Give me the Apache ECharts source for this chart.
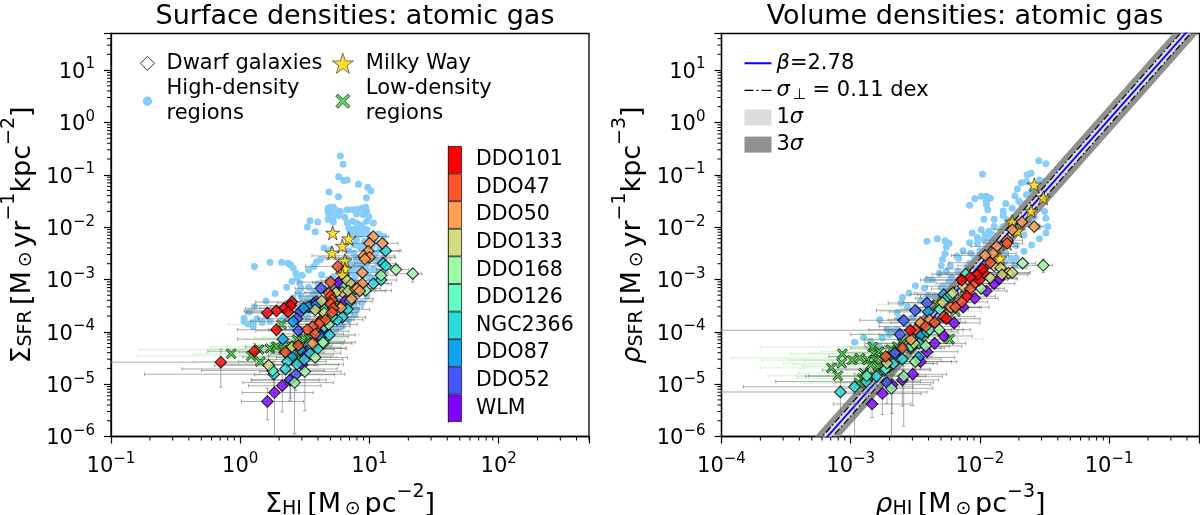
<!DOCTYPE html>
<html><head><meta charset="utf-8">
<style>html,body{margin:0;padding:0;background:#fff}#c{width:1200px;height:515px}</style>
<script src="https://cdn.jsdelivr.net/npm/echarts@6/dist/echarts.min.js"></script>
</head><body><div id="c"></div>
<script>
// All measurements in dex (log10). Point rows: [x, y, xErrLow, xErrHigh, yErrLow, yErrHigh]
const galaxies = ['WLM','DDO52','DDO87','NGC2366','DDO126','DDO168','DDO133','DDO50','DDO47','DDO101'];
const galaxyColors = ['#8000ff','#4756fb','#0fa2f0','#2adcdc','#62fbc4','#9cfba4','#d4dc7f','#ff9f50','#ff5329','#ff0000'];

const surfHigh = [[.775,-.64],[.796,-.8],[.762,-1.04],[.8,-1.11],[.827,-1.1],[.915,-1.18],[.987,-1.24],[1.01,-1.31],[.687,-1.33],[.76,-1.42],[.977,-1.44],[.68,-1.64],[.7,-1.62],[.72,-1.62],[.68,-1.7],[.7,-1.73],[.74,-1.68],[.775,-1.7],[.827,-1.67],[.866,-1.67],[.904,-1.66],[.943,-1.64],[.97,-1.62],[.98,-1.7],[.687,-1.76],[.72,-1.81],[.76,-1.78],[.81,-1.81],[.9,-1.75],[.95,-1.76],[.995,-1.8],[.98,-1.89],[1.03,-1.92],[.54,-1.88],[.6,-1.9],[.52,-2],[.58,-2.09],[.83,-1.92],[.87,-1.89],[.9,-1.92],[.94,-1.96],[.84,-2.02],[.88,-2.04],[.92,-2.02],[.96,-2.04],[.98,-2.05],[.85,-2.11],[.9,-2.13],[.94,-2.13],[.995,-2.15],[1.07,-2.13],[1.11,-2.18],[.9,-2.24],[.96,-2.27],[.88,-2.34],[.92,-2.37],[.96,-2.4],[1.11,-2.31],[.65,-2.4],[.7,-2.43],[.62,-2.62],[.59,-2.66],[.57,-2.75],[.53,-2.82],[.63,-2.91],[.88,-2.5],[.9,-2.59],[.85,-2.69],[.93,-2.69],[.88,-2.78],[.98,-2.69],[1.06,-2.66],[1.11,-2.59],[.11,-2.75],[.23,-2.67],[.32,-2.67],[.37,-2.69],[.39,-2.72],[.41,-2.78],[.48,-2.92],[.43,-2.88],[.44,-2.97],[.46,-3.07],[.4,-3.04],[.36,-3.15],[.47,-3.17],[.27,-3.27],[.53,-3.15],[.57,-3.23],[.2,-3.41],[.11,-3.52],[.07,-3.62],[.03,-3.74],[.03,-3.8],[.1,-3.82],[.06,-3.85],[.1,-3.9],[.17,-3.82],[.23,-3.8],[.47,-3.32],[.52,-3.36],[.59,-3.26],[.65,-3.2],[.7,-3.13],[.775,-3],[.84,-2.88],[.89,-2.94],[.92,-3.07],[.96,-3.13],[.98,-3.32],[.94,-3.45],[.9,-3.58],[.88,-3.68],[.84,-3.77],[.79,-3.9],[.74,-3.96],[.7,-4.06],[.41,-3.45],[.36,-3.71],[.4,-3.9],[.47,-3.96],[.52,-3.71],[.57,-3.45],
[1,-2.25],[1.05,-2.3],[1.08,-2.4],[1.02,-2.38],[.98,-2.5],[1.05,-2.5],[1.1,-2.45],[1,-2.6],[1.04,-2.62],[1.08,-2.7],[.95,-2.6],[.9,-2.68],[.93,-2.78],[.98,-2.82],[1.03,-2.8],[1.07,-2.85],[.85,-2.85],[.9,-2.88],[.95,-2.92],[1,-2.95],[1.04,-2.98],[.8,-2.98],[.86,-3.02],[.92,-3.15],[.88,-3.2],[.82,-3.15],[.78,-3.25],[.84,-3.32],[.9,-3.3],[.94,-3.25],[.76,-3.4],[.82,-3.48],[.88,-3.5],[.72,-3.55],[.78,-3.6],[.84,-3.6],[.68,-3.7],[.74,-3.75],[.8,-3.75],[.65,-3.85],[.7,-3.88],[.6,-3.95],[.66,-4],[.55,-3.6],[.48,-3.6],[.44,-3.7],[.5,-3.5],[.62,-3.4],[.68,-3.35],[.74,-3.1],[.68,-3],[.6,-3.08],[.56,-3.3],[.78,-2.85],[.72,-2.95],[.8,-2.7],[.84,-2.45],[.82,-2.6],[.76,-2.75],[.45,-3.25],[.41,-3.35],[.38,-3.55],[.33,-3.75],[.13,-3.75],[.2,-3.7],[.72,-1.9],[.68,-1.85]];
const surfMilkyWay = [[.716,-2.11],[.84,-2.22],[.79,-2.36],[.71,-2.49],[.81,-2.64],[.81,-2.8],[.79,-2.91]];
const surfLow = [[.32,-3.86,.41,.3,.09,.09],[-.07,-4.42,.29,.2,.08,.08],[.145,-4.34,.92,.32,.09,.09],[.23,-4.32,.46,.34,.1,.1],[.28,-4.28,.5,.3,.1,.1],[.085,-4.46,.88,.28,.1,.1],[.155,-4.57,.52,.28,.1,.1],[.44,-4.15,.4,.32,.09,.09],[.49,-4.12,.38,.3,.09,.09],[.53,-4.12,.36,.3,.08,.08],[.48,-4.38,.4,.3,.1,.1],[.41,-4.47,.42,.34,.12,.12],[.44,-4.53,.38,.3,.12,.12],[.465,-4.28,.36,.3,.1,.1],[.57,-4.22,.34,.28,.1,.1],[.62,-4.06,.3,.3,.08,.08],[.335,-4.34,.44,.3,.1,.1],[.63,-3.68,.28,.25,.07,.07],[.4,-4.28,.36,.32,.1,.1]];
const surfWLM = [[.76,-3.06,.2,.2,.08,.08],[.81,-3.42,.18,.16,.08,.08],[.64,-3.99,.22,.2,.1,.1],[.59,-4.18,.25,.22,.1,.1],[.54,-4.31,.26,.24,.12,.12],[.5,-4.44,.28,.22,.14,.12],[.48,-4.63,.3,.28,.2,.15],[.39,-4.92,.3,.22,.35,.2],[.325,-5.03,.26,.3,.5,.25],[.265,-5.16,.25,.3,.85,.3],[.21,-5.33,.2,.28,.35,.25]];
const surfDDO52 = [[.625,-3.17,.2,.22,.07,.07],[.465,-3.62,.3,.25,.09,.09],[.44,-3.75,.3,.24,.1,.1],[.45,-3.98,.33,.25,.12,.12],[.57,-3.45,.28,.22,.08,.08],[.59,-3.42,.24,.2,.08,.08],[.54,-4.31,.3,.28,.14,.14],[.43,-4.82,.32,.3,.3,.2],[.385,-4.92,.3,.28,.4,.2]];
const surfDDO87 = [[.53,-3.52,.3,.2,.08,.08],[.41,-3.8,.33,.27,.1,.1],[.33,-4.14,.35,.28,.12,.12],[.49,-3.55,.34,.25,.08,.08],[.4,-4.48,.38,.3,.16,.14],[.62,-4.09,.28,.22,.1,.1],[.59,-3.48,.26,.2,.08,.08],[.465,-4.34,.32,.26,.12,.12]];
const surfNGC2366 = [[1.125,-2.45,.2,.12,.05,.05],[1.105,-2.69,.22,.1,.06,.06],[1.125,-2.74,.25,.1,.06,.06],[1.09,-3.01,.2,.12,.07,.07],[1.03,-3.08,.18,.14,.07,.07],[.85,-3.42,.18,.17,.08,.08],[.83,-3.57,.2,.17,.08,.08],[.79,-3.72,.22,.18,.1,.1],[.75,-3.77,.24,.2,.1,.1],[.69,-4.06,.25,.2,.1,.1],[.6,-4.32,.3,.22,.12,.12],[.54,-4.41,.3,.24,.13,.13],[.495,-4.53,.34,.3,.15,.15],[.44,-4.62,.6,.36,.2,.17],[.365,-4.57,.38,.3,.2,.15],[.35,-4.71,.8,.4,.3,.2],[.26,-4.81,1,.55,.38,.25]];
const surfDDO126 = [[.65,-3.9,.25,.2,.08,.08],[.71,-3.71,.22,.2,.08,.08],[.645,-4.22,.26,.22,.1,.1],[.25,-4.74,.55,.4,.18,.15],[.54,-4.22,.3,.24,.1,.1],[.65,-3.58,.22,.2,.08,.08],[.81,-3.13,.2,.16,.07,.07],[.58,-3.96,.28,.2,.09,.09]];
const surfDDO168 = [[1.335,-2.89,.12,.07,.16,.1],[1.205,-2.81,.15,.1,.08,.08],[1.09,-2.92,.16,.12,.08,.08],[.97,-3.21,.18,.2,.07,.07],[.685,-3.86,.25,.22,.09,.09],[.64,-4.2,.3,.25,.1,.1],[.58,-4.49,.3,.25,.15,.12],[.5,-4.76,.35,.28,.75,.2],[.42,-4.97,.4,.3,.98,.25]];
const surfDDO133 = [[.827,-3.02,.2,.2,.06,.06],[.86,-3.09,.2,.18,.06,.06],[.79,-3.24,.22,.18,.06,.06],[.74,-3.25,.24,.2,.07,.07],[.835,-3.22,.2,.18,.07,.07],[.63,-3.41,.26,.22,.07,.07],[.58,-3.58,.26,.24,.08,.08],[.65,-3.64,.24,.22,.08,.08],[.4,-4.29,.36,.3,.12,.12],[.22,-4.64,.42,.38,.18,.18],[.72,-3.45,.22,.2,.07,.07],[.89,-3.18,.18,.16,.07,.07]];
const surfDDO50 = [[1.03,-2.18,.14,.12,.05,.05],[1.1,-2.31,.15,.12,.05,.05],[1,-2.31,.18,.14,.05,.05],[.99,-2.46,.2,.24,.05,.05],[.955,-2.55,.4,.24,.05,.05],[1,-2.58,.35,.2,.05,.05],[.965,-2.61,.3,.2,.06,.06],[.945,-2.87,.2,.2,.06,.06],[.945,-3.08,.18,.2,.06,.06],[.905,-3.17,.18,.18,.06,.06],[.925,-3.22,.16,.2,.06,.06],[.86,-3.37,.18,.17,.06,.06],[.78,-3.54,.2,.17,.07,.07],[.56,-4.22,.3,.24,.1,.1]];
const surfDDO47 = [[.755,-2.75,.25,.2,.06,.06],[.7,-3.05,.25,.2,.06,.06],[.685,-3.26,.26,.22,.07,.07],[.7,-3.32,.24,.22,.07,.07],[.71,-3.39,.24,.2,.07,.07],[.7,-3.46,.24,.2,.07,.07],[.72,-3.55,.22,.2,.08,.08],[.71,-3.63,.24,.2,.08,.08],[.62,-3.8,.28,.22,.08,.08],[.66,-3.77,.26,.22,.08,.08],[.61,-3.85,.26,.24,.09,.09],[.56,-3.9,.28,.24,.09,.09],[.52,-3.96,.3,.24,.1,.1],[.58,-4.04,.28,.22,.1,.1],[.45,-4.26,.34,.26,.13,.13],[.35,-4.39,.36,.3,.14,.14]];
const surfDDO101 = [[.4,-3.43,.28,.2,.07,.07],[.39,-3.5,.28,.2,.08,.08],[.34,-3.55,.3,.22,.08,.08],[.37,-3.62,.32,.22,.09,.09],[.28,-3.6,.25,.22,.09,.09],[.21,-3.64,.17,.25,.1,.1],[.28,-3.96,.3,.25,.12,.12],[.11,-4.37,.36,.3,.15,.15],[-.15,-4.58,.85,.27,.48,.25]];
const surfGalaxies = [surfWLM,surfDDO52,surfDDO87,surfNGC2366,surfDDO126,surfDDO168,surfDDO133,surfDDO50,surfDDO47,surfDDO101];

const volHigh = [[-1.545,-.73],[-1.49,-.79],[-1.98,-.99],[-1.635,-1],[-1.605,-.97],[-1.68,-1.15],[-1.64,-1.13],[-1.54,-1.1],[-1.5,-1.13],[-1.71,-1.27],[-1.73,-1.4],[-1.64,-1.38],[-1.99,-1.41],[-1.95,-1.41],[-1.92,-1.45],[-2.04,-1.46],[-2.08,-1.58],[-1.95,-1.51],[-1.95,-1.57],[-1.94,-1.67],[-1.8,-1.55],[-1.68,-1.55],[-1.64,-1.55],[-1.82,-1.69],[-1.75,-1.64],[-1.97,-1.85],[-1.89,-1.85],[-1.82,-1.78],[-1.79,-1.86],[-1.89,-1.99],[-1.82,-1.99],[-2.06,-2.11],[-1.99,-2.05],[-1.93,-2.08],[-1.49,-1.83],[-1.475,-1.99],[-1.49,-2.11],[-1.54,-2.22],[-1.6,-2.34],[-1.66,-2.46],[-1.72,-2.59],[-2.41,-2.27],[-2.33,-2.22],[-2.27,-2.26],[-2.24,-2.31],[-2.26,-2.38],[-2.27,-2.51],[-2.29,-2.62],[-2.3,-2.74],[-2.23,-2.74],[-2.315,-2.88],[-2.37,-3.01],[-2.41,-3.01],[-2.165,-2.6],[-2.07,-2.5],[-2.02,-2.31],[-1.97,-2.24],[-1.915,-2.21],[-1.86,-2.18],[-2.08,-2.69],[-2.5,-3.12],[-2.43,-3.17],[-2.55,-3.26],[-2.6,-3.34],[-2.61,-3.45],[-2.56,-3.52],[-2.64,-3.63],[-2.625,-3.74],[-2.775,-3.77],[-2.68,-3.98],[-2.755,-4.12],[-2.9,-4.11],[-2.97,-4.2],[-2.845,-4.18],[-2.78,-4.28],[-2.35,-3.45],[-2.28,-3.39],[-2.19,-3.2],[-2.28,-3.13],[-2.35,-3.32],[-1.73,-2.72],[-1.81,-2.66],
[-1.6,-1.3],[-1.58,-1.45],[-1.52,-1.5],[-1.62,-1.6],[-1.55,-1.65],[-1.5,-1.7],[-1.7,-1.5],[-1.66,-1.72],[-1.58,-1.8],[-1.62,-1.95],[-1.55,-2],[-1.68,-1.85],[-1.74,-1.85],[-1.72,-2.05],[-1.66,-2.15],[-1.78,-2.05],[-1.84,-2.05],[-1.9,-2.15],[-1.96,-2.15],[-2.02,-2.2],[-2.08,-2.3],[-1.84,-2.2],[-2.13,-2.45],[-2.18,-2.55],[-2,-2.45],[-2.04,-2.6],[-2.1,-2.75],[-2.17,-2.85],[-2.22,-2.95],[-2.14,-2.9],[-1.72,-2.35],[-1.8,-2.5],[-1.76,-2.6],[-1.85,-2.72],[-2.26,-2.85],[-2.24,-3.05],[-2.3,-3.15],[-2.18,-3.05],[-2.4,-3.3],[-2.46,-3.4],[-2.4,-3.5],[-2.48,-3.6],[-2.52,-3.72],[-2.58,-3.85],[-2.64,-3.95],[-2.72,-3.95],[-2.7,-4.05],[-2.62,-4.1]];
const volMilkyWay = [[-1.58,-1.19],[-1.51,-1.44],[-1.605,-1.69],[-1.75,-1.9],[-1.71,-2.07],[-1.845,-2.6],[-1.79,-2.31],[-2.315,-3.44]];
const volLow = [[-3.065,-4.42,.4,.25,.1,.1],[-3.07,-4.6,.45,.3,.1,.1],[-3.15,-4.69,.55,.35,.1,.1],[-3.1,-4.84,.54,.35,.12,.12],[-2.99,-4.54,.7,.4,.1,.1],[-2.93,-4.5,.99,.4,.1,.1],[-2.83,-4.29,.87,.38,.1,.1],[-2.87,-4.54,.6,.36,.1,.1],[-2.82,-4.41,.5,.34,.1,.1],[-2.78,-4.38,.45,.34,.1,.1],[-2.81,-4.54,.55,.3,.1,.1],[-2.845,-4.63,.6,.36,.12,.12],[-2.79,-4.66,.58,.34,.12,.12],[-2.9,-4.79,.5,.34,.12,.12],[-2.91,-4.89,.5,.34,.12,.12],[-2.935,-4.98,.45,.34,.13,.13],[-2.87,-4.85,.55,.32,.12,.12],[-2.69,-4.34,.4,.3,.1,.1],[-2.64,-4.28,.38,.3,.1,.1],[-2.6,-4.22,.38,.3,.09,.09],[-2.74,-4.47,.42,.34,.1,.1],[-2.235,-4.14,.66,.26,.1,.1],[-2.19,-3.61,.58,.2,.07,.07],[-2.33,-3.48,.45,.25,.07,.07],[-2.43,-4.03,.5,.3,.09,.09],[-2.47,-4.12,.45,.3,.1,.1]];
const volWLM = [[-1.89,-3.08,.16,.16,.07,.07],[-1.85,-2.99,.14,.14,.06,.06],[-1.95,-3.22,.18,.16,.07,.07],[-2.04,-3.36,.2,.18,.07,.07],[-2.13,-3.53,.22,.2,.08,.08],[-2.2,-3.83,.25,.2,.1,.1],[-2.28,-4.08,.26,.22,.1,.1],[-2.35,-4.22,.28,.24,.11,.11],[-2.41,-4.38,.3,.24,.13,.13],[-2.46,-4.57,.3,.28,.15,.15],[-2.52,-4.81,.3,.26,.6,.2],[-2.6,-4.92,.3,.28,.5,.2],[-2.68,-5.01,.32,.3,.55,.25],[-2.755,-5.18,.32,.3,.4,.2],[-2.835,-5.38,.3,.3,.26,.2]];
const volDDO52 = [[-2.41,-3.45,.3,.22,.08,.08],[-2.5,-3.59,.3,.26,.08,.08],[-2.59,-3.78,.34,.28,.09,.09],[-2.62,-4.05,.38,.3,.1,.1],[-2.66,-4.4,.4,.3,.13,.13],[-2.72,-4.97,.4,.36,.4,.2]];
const volDDO87 = [[-2.4,-3.62,.3,.24,.08,.08],[-2.475,-4.49,.34,.28,.12,.12],[-2.46,-4.06,.32,.26,.1,.1],[-2.28,-3.29,.26,.2,.08,.08]];
const volNGC2366 = [[-2.6,-4.52,.4,.3,.14,.14],[-2.67,-4.61,.44,.34,.16,.16],[-2.74,-4.73,.48,.36,.18,.18],[-2.8,-4.85,.55,.38,.2,.2],[-2.88,-4.95,.7,.42,.3,.2],[-2.97,-5.05,.86,.45,.95,.25],[-3.08,-5.15,.92,.67,.4,.25],[-2.535,-4.31,.34,.26,.12,.12],[-2.47,-4.22,.32,.26,.11,.11],[-2.41,-4,.3,.24,.1,.1],[-2.26,-3.36,.24,.2,.07,.07]];
const volDDO126 = [[-2.11,-2.9,.26,.2,.06,.06],[-2.31,-3.57,.3,.22,.08,.08],[-2.39,-3.96,.34,.26,.09,.09],[-2.535,-4.28,.36,.3,.11,.11],[-2.876,-4.84,.45,.4,.15,.15],[-2.73,-4.71,.44,.34,.15,.15],[-2.225,-3.29,.26,.2,.07,.07]];
const volDDO168 = [[-1.51,-2.73,.12,.07,.14,.12],[-1.67,-2.69,.14,.1,.08,.08],[-1.99,-3.17,.22,.18,.07,.07],[-2.315,-3.96,.3,.24,.09,.09],[-2.42,-4.27,.32,.28,.11,.11],[-2.5,-4.57,.34,.28,.15,.15],[-2.59,-4.85,.36,.3,.95,.25],[-2.685,-5.08,.4,.32,.93,.25]];
const volDDO133 = [[-1.89,-2.74,.28,.18,.06,.06],[-1.84,-2.78,.26,.2,.06,.06],[-1.78,-2.88,.22,.16,.06,.06],[-1.75,-2.87,.2,.14,.06,.06],[-1.83,-2.91,.22,.2,.07,.07],[-1.92,-2.97,.24,.2,.07,.07],[-2.13,-3.13,.28,.22,.07,.07],[-2.21,-3.26,.3,.22,.07,.07],[-2.29,-3.44,.3,.24,.08,.08],[-2.51,-4.22,.38,.3,.11,.11],[-2.72,-4.6,.42,.36,.16,.16]];
const volDDO50 = [[-1.675,-1.9,.1,.08,.05,.05],[-1.58,-1.99,.08,.07,.05,.05],[-1.75,-2.05,.14,.1,.05,.05],[-1.79,-2.25,.16,.12,.05,.05],[-1.87,-2.37,.2,.16,.05,.05],[-1.9,-2.5,.24,.18,.05,.05],[-1.96,-2.54,.26,.18,.06,.06],[-2.225,-3.535,.26,.22,.07,.07],[-2.39,-3.77,.32,.24,.08,.08],[-2.46,-3.83,.32,.26,.09,.09],[-2.535,-4.15,.36,.28,.1,.1]];
const volDDO47 = [[-1.79,-2.31,.18,.12,.05,.05],[-1.92,-2.68,.32,.18,.06,.06],[-2.04,-3.07,.3,.2,.06,.06],[-2.075,-3.18,.3,.22,.07,.07],[-2.14,-3.43,.3,.2,.07,.07],[-2.19,-3.53,.3,.2,.08,.08],[-2.35,-3.82,.34,.24,.08,.08],[-2.42,-3.9,.36,.26,.09,.09],[-2.5,-3.96,.36,.28,.09,.09],[-2.6,-4.31,.4,.3,.12,.12],[-2.73,-4.47,.44,.36,.14,.14],[-2.28,-3.71,.32,.24,.08,.08]];
const volDDO101 = [[-1.97,-2.87,.34,.2,.07,.07],[-2.005,-3.01,.38,.22,.07,.07],[-2.02,-2.91,.3,.2,.07,.07],[-2.075,-2.96,.34,.2,.07,.07],[-2.14,-3.01,.32,.2,.07,.07],[-1.98,-2.8,.28,.18,.07,.07],[-2.1,-3.32,.36,.22,.09,.09],[-2.26,-3.75,.4,.26,.1,.1],[-2.54,-3.97,1.46,.22,.12,.12]];
const volGalaxies = [volWLM,volDDO52,volDDO87,volNGC2366,volDDO126,volDDO168,volDDO133,volDDO50,volDDO47,volDDO101];

const fitLogX = [-3.4,-0.3];
const fitLogY = [-6.612,2.006];
const sigmaDex = 0.11;
const threeSigmaDex = 0.27;
const minorDigits = [2,3,4,5,6,7,8,9];
const surfXDecades = [-1,0,1,2];
const volXDecades = [-4,-3,-2,-1];
const yDecades = [-6,-5,-4,-3,-2,-1,0,1];

const FONT = 'DejaVu Sans';
const toPt = p => [10**p[0], 10**p[1]];
const sup = {fontFamily:FONT,fontSize:15,fontWeight:400,color:'#000',verticalAlign:'top',lineHeight:26,padding:[0,0,10,0]};
const base = {fontFamily:FONT,fontSize:21,color:'#000',verticalAlign:'bottom',lineHeight:26};
const big = {fontFamily:FONT,fontSize:27,color:'#000',verticalAlign:'bottom',lineHeight:36};
const bigI = Object.assign({},big,{fontStyle:'italic'});
const bigSup = {fontFamily:FONT,fontSize:19,color:'#000',verticalAlign:'top',lineHeight:36,padding:[0,0,13,0]};
const bigSub = {fontFamily:FONT,fontSize:19,color:'#000',verticalAlign:'bottom',lineHeight:36,padding:[13,0,0,0]};
const nameRich = {b:big,i:bigI,u:bigSup,d:bigSub};

function tickFmt(v){
  const e = Math.round(Math.log10(v));
  if (Math.abs(10**e - v)/v > 1e-6) return '';
  return '{b|10}{s|' + String(e).replace('-','\u2212') + '}';
}
function axis(extra,margin){
  return Object.assign({type:'log',logBase:10,
    axisLine:{show:true,onZero:false,lineStyle:{color:'#000',width:1.3}},
    axisTick:{show:true,length:7,lineStyle:{color:'#000',width:1.2}},
    splitLine:{show:false},minorTick:{show:false},
    axisLabel:{formatter:tickFmt,margin,rich:{b:base,s:sup},showMinLabel:true,showMaxLabel:true,hideOverlap:false}
  },extra);
}
function errorSeries(name,rows,g,color,z){
  return {type:'custom',name,xAxisIndex:g,yAxisIndex:g,clip:true,z,silent:true,
    data:rows.map(r=>[10**(r[0]-r[2]),10**(r[0]+r[3]),10**(r[1]-r[4]),10**(r[1]+r[5]),10**r[0],10**r[1]]),
    encode:{x:[0,1],y:[2,3]},
    renderItem(params,api){
      const a=api.coord([api.value(0),api.value(5)]),b=api.coord([api.value(1),api.value(5)]);
      const c=api.coord([api.value(4),api.value(2)]),d=api.coord([api.value(4),api.value(3)]);
      const st={stroke:color,lineWidth:1,fill:null},cap=1.8;
      const seg=(x1,y1,x2,y2)=>({type:'line',shape:{x1,y1,x2,y2},style:st,silent:true});
      return {type:'group',children:[seg(a[0],a[1],b[0],b[1]),seg(c[0],c[1],d[0],d[1]),
        seg(a[0],a[1]-cap,a[0],a[1]+cap),seg(b[0],b[1]-cap,b[0],b[1]+cap),
        seg(c[0]-cap,c[1],c[0]+cap,c[1]),seg(d[0]-cap,d[1],d[0]+cap,d[1])]};
    }};
}
function minorSeries(g,decades,isX){
  const vals=[]; decades.forEach(d=>minorDigits.forEach(m=>vals.push(m*10**d)));
  return {type:'custom',xAxisIndex:g,yAxisIndex:g,clip:false,silent:true,z:1,
    data:vals.map(v=>[v]),encode:isX?{x:0}:{y:0},
    renderItem(params,api){
      const cs=params.coordSys,v=api.value(0),len=4;
      if(isX){const p=api.coord([v,1e-6]); if(p[0]>cs.x+cs.width+.5) return;
        return {type:'line',shape:{x1:p[0],y1:cs.y+cs.height,x2:p[0],y2:cs.y+cs.height+len},style:{stroke:'#000',lineWidth:1}};}
      const x0=g===0?.1:1e-4,p=api.coord([x0,v]); if(p[1]<cs.y-.5) return;
      return {type:'line',shape:{x1:cs.x,y1:p[1],x2:cs.x-len,y2:p[1]},style:{stroke:'#000',lineWidth:1}};
    }};
}
const xPath='path://M3 0 L10 7 L17 0 L20 3 L13 10 L20 17 L17 20 L10 13 L3 20 L0 17 L7 10 L0 3 Z';
const starIcon='path://M50 0 L61.8 36.3 L100 36.3 L69.1 58.8 L80.9 95.1 L50 72.7 L19.1 95.1 L30.9 58.8 L0 36.3 L38.2 36.3 Z';
function pointSeries(g,high,low,mw,gals){
  const s=[];
  s.push({type:'scatter',name:'High-density regions',xAxisIndex:g,yAxisIndex:g,z:2,symbol:'circle',symbolSize:7,silent:true,
    itemStyle:{color:'#87cdf9',opacity:1},data:high.map(toPt)});
  s.push(errorSeries('err'+g,gals.flat(),g,'rgba(105,105,105,0.55)',5));
  s.push(errorSeries('errlow'+g,low,g,'rgba(120,215,120,0.32)',5));
  s.push({type:'scatter',name:'Low-density regions',xAxisIndex:g,yAxisIndex:g,z:6,symbol:xPath,symbolSize:10,silent:true,
    itemStyle:{color:'#32cd32',borderColor:'#111',borderWidth:1},data:low.map(toPt)});
  s.push({type:'scatter',name:'Milky Way',xAxisIndex:g,yAxisIndex:g,z:7,symbol:starIcon,symbolSize:14,silent:true,
    itemStyle:{color:'#ffd700',borderColor:'#111',borderWidth:.8},data:mw.map(toPt)});
  gals.forEach((rows,i)=>s.push({type:'scatter',name:galaxies[i],xAxisIndex:g,yAxisIndex:g,z:8,symbol:'diamond',symbolSize:11.5,silent:true,
    itemStyle:{color:galaxyColors[i],borderColor:'#000',borderWidth:1.1},data:rows.map(toPt)}));
  return s;
}
function band(name,d,color,z){
  const corners=[[10**fitLogX[0],10**(fitLogY[0]+d)],[10**fitLogX[1],10**(fitLogY[1]+d)],[10**fitLogX[1],10**(fitLogY[1]-d)],[10**fitLogX[0],10**(fitLogY[0]-d)]];
  return {type:'custom',name,xAxisIndex:1,yAxisIndex:1,clip:true,z,silent:true,itemStyle:{color},
    data:corners,encode:{x:0,y:1},
    renderItem(params,api){
      if(params.dataIndex!==0) return;
      return {type:'polygon',shape:{points:corners.map(c=>api.coord(c))},style:{fill:color}};
    }};
}
function fitLine(name,d,color,type,width){
  return {type:'line',name,xAxisIndex:1,yAxisIndex:1,z:4,symbol:'none',silent:true,
    lineStyle:{color,type,width},itemStyle:{color},
    data:[[10**fitLogX[0],10**(fitLogY[0]+d)],[10**fitLogX[1],10**(fitLogY[1]+d)]]};
}
const dashDot=[7,2.5,1.5,2.5];
const series=[
  minorSeries(0,surfXDecades,true),minorSeries(0,yDecades,false),
  minorSeries(1,volXDecades,true),minorSeries(1,yDecades,false),
  {type:'scatter',name:'Dwarf galaxies',xAxisIndex:0,yAxisIndex:0,data:[],symbol:'diamond',itemStyle:{color:'#fff',borderColor:'#000',borderWidth:1}},
  ...pointSeries(0,surfHigh,surfLow,surfMilkyWay,surfGalaxies),
  band('3s',threeSigmaDex,'#909090',3),band('1s',sigmaDex,'#dcdcdc',3.5),
  fitLine('fit',0,'#0000ff','solid',1.8),
  fitLine('sig',sigmaDex,'#000',dashDot,1.2),fitLine('sig',-sigmaDex,'#000',dashDot,1.2),
  ...pointSeries(1,volHigh,volLow,volMilkyWay,volGalaxies),
  {type:'bar',xAxisIndex:2,yAxisIndex:2,barWidth:'100%',silent:true,
    data:galaxies.map((g,i)=>({value:1,itemStyle:{color:galaxyColors[i],borderColor:'#222',borderWidth:.8}}))}
];
const legText={fontFamily:FONT,fontSize:21,color:'#000',lineHeight:24.6};
const lineIcon='path://M0 0 L0 0 Z M0 7 H27 V9 H0 Z M27 16 L27 16 Z';
const dashIcon='path://M0 0 L0 0 Z M0 7.3 H9 V8.7 H0 Z M12 7.3 H14 V8.7 H12 Z M17 7.3 H27 V8.7 H17 Z M27 16 L27 16 Z';
const dotIcon='path://M0 0 L0 0 Z M14 14 L14 14 Z M7 2.3 A4.7 4.7 0 1 1 6.99 2.3 Z';
const diamondIcon='path://M0 0 L0 0 Z M28 14 L28 14 Z M14 0 L21 7 L14 14 L7 7 Z';
const xIcon='path://M-4 -4 L-4 -4 Z M24 24 L24 24 Z M3 0 L10 7 L17 0 L20 3 L13 10 L20 17 L17 20 L10 13 L3 20 L0 17 L7 10 L0 3 Z';
const option={
  animation:false,backgroundColor:'#fff',
  title:[
    {text:'Surface densities: atomic gas',left:350,top:-2,textAlign:'center',textStyle:{fontFamily:FONT,fontSize:27,fontWeight:400,color:'#000'}},
    {text:'Volume densities: atomic gas',left:960,top:-2,textAlign:'center',textStyle:{fontFamily:FONT,fontSize:27,fontWeight:400,color:'#000'}}
  ],
  grid:[
    {left:111,top:33.5,width:478,height:403,show:true,backgroundColor:'transparent',borderColor:'#000',borderWidth:1.3,outerBoundsMode:'none'},
    {left:721.5,top:33.5,width:478,height:403,show:true,backgroundColor:'transparent',borderColor:'#000',borderWidth:1.3,outerBoundsMode:'none'},
    {left:448,top:146,width:14,height:276,outerBoundsMode:'none'}
  ],
  xAxis:[
    axis({gridIndex:0,min:.1,max:500,nameLocation:'middle',nameGap:38,
      name:'{b|\u03a3}{d|HI}{b|\u2009[M}{d|\u2009\u2299\u2009}{b|pc}{u|\u22122}{b|]}',nameTextStyle:{rich:nameRich}},15),
    axis({gridIndex:1,min:1e-4,max:.5,nameLocation:'middle',nameGap:38,
      name:'{i|\u03c1}{d|HI}{b|\u2009[M}{d|\u2009\u2299\u2009}{b|pc}{u|\u22123}{b|]}',nameTextStyle:{rich:nameRich}},15),
    {gridIndex:2,type:'value',min:0,max:1,show:false}
  ],
  yAxis:[
    axis({gridIndex:0,min:1e-6,max:50,nameLocation:'middle',nameGap:75,
      name:'{b|\u03a3}{d|SFR}{b|\u2009[M}{d|\u2009\u2299\u2009}{b|yr}{u|\u22121}{b|kpc}{u|\u22122}{b|]}',nameTextStyle:{rich:nameRich}},16),
    axis({gridIndex:1,min:1e-6,max:50,nameLocation:'middle',nameGap:75,
      name:'{i|\u03c1}{d|SFR}{b|\u2009[M}{d|\u2009\u2299\u2009}{b|yr}{u|\u22121}{b|kpc}{u|\u22123}{b|]}',nameTextStyle:{rich:nameRich}},16),
    {gridIndex:2,type:'category',data:galaxies,position:'right',
      axisLine:{show:true,lineStyle:{color:'#222',width:1.2}},axisTick:{show:true,alignWithLabel:true,length:7,lineStyle:{color:'#222',width:1}},
      axisLabel:{fontFamily:FONT,fontSize:20.5,color:'#000',margin:14,interval:0}}
  ],
  legend:[
    {left:128,top:46,orient:'vertical',selectedMode:false,itemGap:1,itemWidth:28,itemHeight:14,textStyle:legText,
      data:[{name:'Dwarf galaxies',icon:diamondIcon,itemStyle:{color:'#fff',borderColor:'#000',borderWidth:1}},{name:'High-density regions',icon:dotIcon,itemStyle:{color:'#87cdf9'}}],
      formatter:n=>n.replace(' regions','\nregions')},
    {left:327,top:46,orient:'vertical',selectedMode:false,itemGap:1,itemWidth:36,itemHeight:20,textStyle:legText,
      data:[{name:'Milky Way',icon:starIcon,itemStyle:{color:'#ffd700',borderColor:'#111',borderWidth:.7}},{name:'Low-density regions',icon:xIcon,itemStyle:{color:'#32cd32',borderColor:'#111',borderWidth:.8}}],
      formatter:n=>n.replace(' regions','\nregions')},
    {left:739.5,top:46,orient:'vertical',selectedMode:false,itemGap:2.5,itemWidth:27,itemHeight:16,
      textStyle:Object.assign({},legText,{rich:{t:legText,i:Object.assign({},legText,{fontStyle:'italic'}),d:{fontFamily:FONT,fontSize:15,verticalAlign:'bottom',padding:[8,0,0,0]}}}),
      data:[{name:'fit',icon:lineIcon,itemStyle:{color:'#0000ff'}},{name:'sig',icon:dashIcon,itemStyle:{color:'#000'}},{name:'1s',icon:'rect',itemStyle:{color:'#dcdcdc'}},{name:'3s',icon:'rect',itemStyle:{color:'#909090'}}],
      formatter:n=>({fit:'{i|\u03b2}{t|=2.78}',sig:'{i|\u03c3}{d|\u2009\u22a5}{t| = 0.11 dex}','1s':'{t|1}{i|\u03c3}','3s':'{t|3}{i|\u03c3}'})[n]}
  ],
  series
};
const chart=echarts.init(document.getElementById('c'),null,{renderer:'canvas'});
chart.setOption(option);
</script></body></html>
